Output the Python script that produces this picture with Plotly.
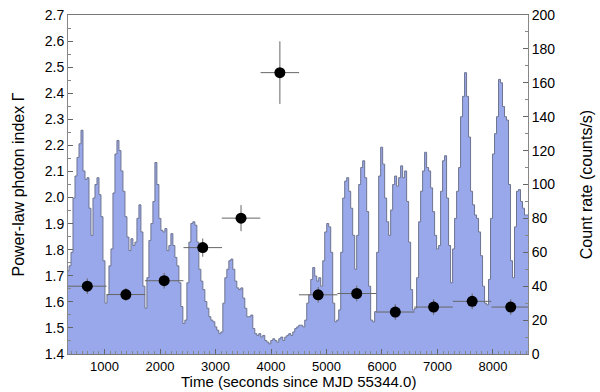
import plotly.graph_objects as go

# count-rate light curve, 36 s bins starting at t = 324 s
bin_start = 324
bin_width = 36

rate_a = [49, 52, 60, 92, 105, 116, 124, 132, 108, 103, 104, 86, 70, 92, 100, 104, 94, 81, 55, 30]
rate_b = [35, 52, 62, 95, 118, 126, 120, 108, 96, 81, 69, 61, 68, 64, 66, 80, 88, 72, 40, 27]
rate_c = [45, 67, 77, 90, 113, 100, 80, 73, 72, 74, 61, 64, 71, 64, 57, 52, 42, 28, 18, 20]
rate_d = [42, 66, 77, 78, 76, 66, 50, 43, 38, 31, 27, 22, 20, 19, 16, 14, 12, 13,
          30, 45, 50, 55, 56, 50, 43, 39, 38, 39, 33, 27, 22, 22, 23, 15]
rate_e = [12, 11, 12, 10, 11, 8, 7, 6, 8, 9, 8, 7, 9, 10, 8, 10, 11, 12, 11, 13, 15, 16,
          17, 17, 16, 20, 30, 35, 44, 51, 46, 43, 45, 40, 55, 72, 77, 75, 60, 30, 19, 20, 26]
rate_f = [60, 92, 102, 104, 96, 86, 70, 50, 70, 100, 110, 114, 104, 84, 40, 20, 19, 25,
          60, 105, 122, 112, 92, 78, 70, 85, 100, 105, 99, 104, 111, 104, 108, 90, 66]
rate_g = [38, 26, 27, 45, 78, 96, 108, 119, 110, 108, 98, 84, 70, 62, 64, 96, 114, 117,
          92, 64, 42, 62, 80, 96, 110, 140, 152, 166, 152, 128, 96, 88, 82, 80, 72, 58,
          40, 30, 29, 44, 80, 118, 130, 140, 162, 160, 146, 140, 138, 100, 55, 45, 75,
          96, 97, 90, 86, 82, 82]

rate = rate_a + rate_b + rate_c + rate_d + rate_e + rate_f + rate_g
edges = [bin_start + bin_width * i for i in range(len(rate) + 1)]

# photon index per time slice
t_mid = [690, 1385, 2075, 2770, 3460, 4160, 4850, 5545, 6240, 6930, 7625, 8320]
t_half = [347] * len(t_mid)
gamma = [1.660, 1.628, 1.681, 1.808, 1.921, 2.479, 1.627, 1.632, 1.561, 1.580, 1.602, 1.580]
gamma_err = [0.03, 0.025, 0.03, 0.035, 0.05, 0.12, 0.03, 0.03, 0.03, 0.03, 0.03, 0.03]

font = "Liberation Sans, Arial, sans-serif"

fig = go.Figure()
fig.add_trace(go.Scatter(
    x=edges, y=rate + [rate[-1]], mode="lines", line_shape="hv",
    fill="tozeroy", fillcolor="#99a8ea",
    line=dict(color="#6d7490", width=1), yaxis="y", hoverinfo="skip"))
fig.add_trace(go.Scatter(
    x=t_mid, y=gamma, mode="markers", yaxis="y2",
    marker=dict(color="black", size=11),
    error_x=dict(type="data", array=t_half, color="#666", thickness=1, width=0),
    error_y=dict(type="data", array=gamma_err, color="#666", thickness=1, width=0)))

fig.update_layout(
    width=600, height=392, showlegend=False,
    paper_bgcolor="white", plot_bgcolor="white",
    margin=dict(l=68, r=72, t=7, b=38),
    font=dict(family=font, size=14, color="black"),
    xaxis=dict(range=[342, 8631], tick0=0, dtick=1000, ticks="inside", ticklen=5,
               tickcolor="#666", showline=True, linecolor="#777", mirror=True,
               showgrid=False, zeroline=False, automargin=False,
               tickfont=dict(size=13),
               minor=dict(ticks="inside", ticklen=3, dtick=100, tickcolor="#888")),
    yaxis=dict(range=[0, 200], side="right", dtick=20, ticks="inside", ticklen=5,
               tickcolor="#666", showline=True, linecolor="#888", showgrid=False,
               zeroline=False, ticklabeloverflow="allow",
               minor=dict(ticks="inside", ticklen=3, dtick=10, tickcolor="#888"),
               title=dict(text="Count rate (counts/s)", standoff=26,
                          font=dict(size=16))),
    yaxis2=dict(range=[1.4, 2.7], overlaying="y", side="left", dtick=0.1,
                tickformat=".1f", ticks="inside", ticklen=5, tickcolor="#666",
                showline=True, linecolor="#888", showgrid=False, zeroline=False,
                ticklabeloverflow="allow",
                minor=dict(ticks="inside", ticklen=3, dtick=0.05, tickcolor="#888"),
                title=dict(text="Power-law photon index Γ", standoff=16,
                           font=dict(size=16))),
    annotations=[dict(text="Time (seconds since MJD 55344.0)", xref="paper",
                      yref="paper", x=0.5, y=0, yshift=-27, yanchor="middle",
                      showarrow=False, font=dict(size=15))],
)

fig.write_html("out.html", config={"displayModeBar": False},
               post_script="document.body.style.margin='0';")
